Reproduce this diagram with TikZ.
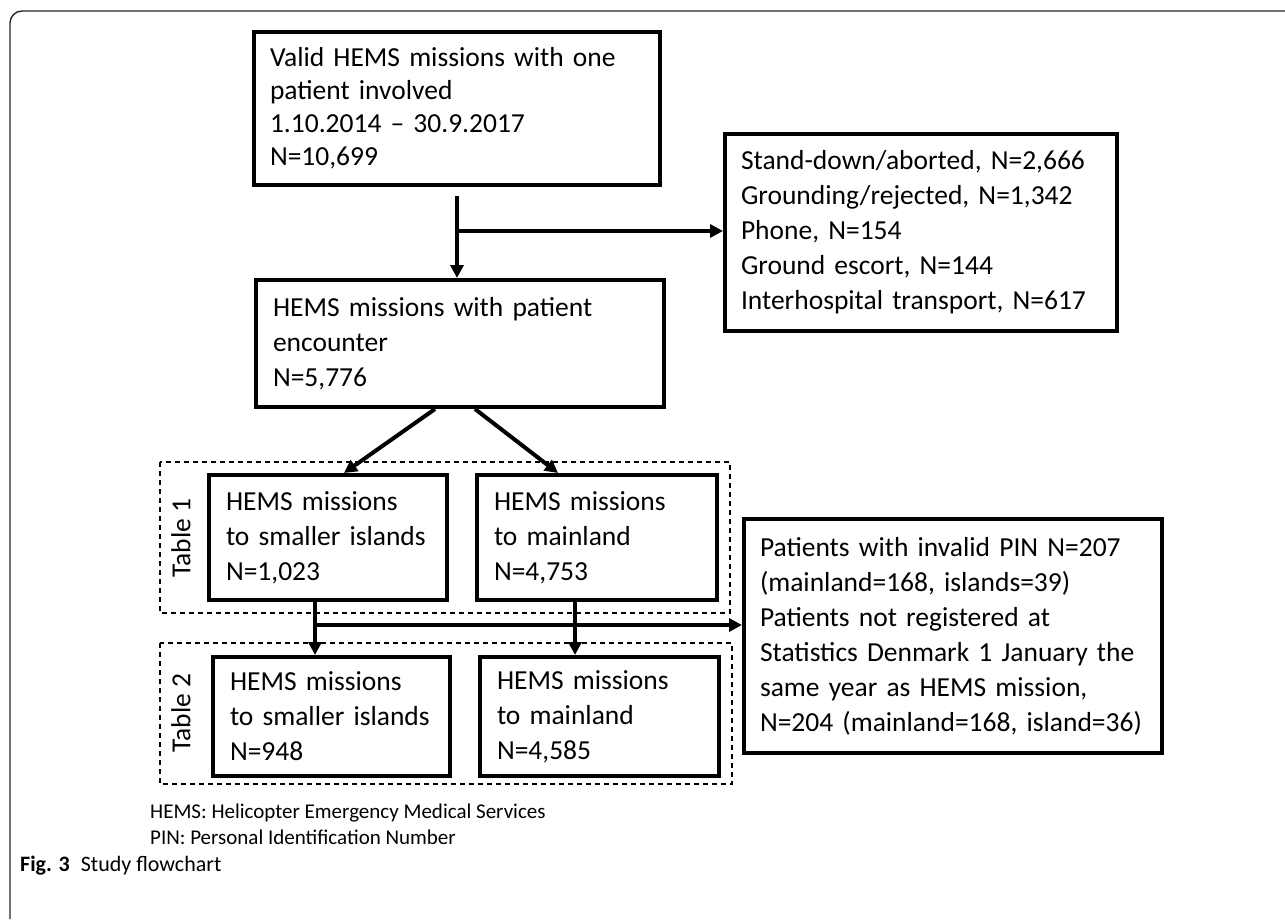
\documentclass[tikz,border=0pt]{standalone}
\usepackage{fontspec}
\setmainfont{Carlito}
\usetikzlibrary{arrows.meta}
\begin{document}
\begin{tikzpicture}[x=1pt,y=-1pt,
  box/.style={draw, line width=4pt, anchor=north west, inner xsep=16pt, inner ysep=0pt,
    align=left, font=\fontsize{27.5}{35}\selectfont},
  arr/.style={line width=4pt, -{Triangle[length=13pt,width=13pt]}},
  tabbox/.style={draw, dashed, line width=1.2pt, dash pattern=on 5pt off 4pt},
  lbl/.style={font=\fontsize{27.5}{33}\selectfont, rotate=90},
]
\useasboundingbox (0,0) rectangle (1285,919);
\fill[white] (0,0) rectangle (1285,919);
% outer frame
\draw[line width=1.4pt, black!85, rounded corners=12pt] (1285,11) -- (10,11) -- (10,919);

% dashed table frames
\draw[tabbox] (160,462) rectangle (730,613);
\draw[tabbox] (160,643) rectangle (732,784);
\node[lbl] (t1) at (181,538) {Table 1};
\node[lbl] (t2) at (181,713) {Table 2};

% boxes
\node[box, minimum width=406pt, minimum height=153pt, text width=374pt,
  font=\fontsize{27.5}{33}\selectfont] (b1) at (252,30)
  {Valid HEMS missions with one\\patient involved\\1.10.2014 -- 30.9.2017\\N=10,699};
\node[box, minimum width=392pt, minimum height=197pt, text width=360pt] (ex1) at (723,132)
  {Stand-down/aborted, N=2,666\\Grounding/rejected, N=1,342\\Phone, N=154\\Ground escort, N=144\\Interhospital transport, N=617};
\node[box, minimum width=408pt, minimum height=127pt, text width=374pt, inner xsep=17pt] (b2) at (254,278)
  {HEMS missions with patient\\encounter\\N=5,776};
\node[box, minimum width=238pt, minimum height=125pt, text width=204pt, inner xsep=17pt] (isl1) at (207,473)
  {HEMS missions\\to smaller islands\\N=1,023};
\node[box, minimum width=240pt, minimum height=125pt, text width=206pt, inner xsep=17pt] (main1) at (475,473)
  {HEMS missions\\to mainland\\N=4,753};
\node[box, minimum width=237pt, minimum height=119pt, text width=203pt, inner xsep=17pt] (isl2) at (211,655)
  {HEMS missions\\to smaller islands\\N=948};
\node[box, minimum width=239pt, minimum height=119pt, text width=205pt, inner xsep=17pt] (main2) at (478,655)
  {HEMS missions\\to mainland\\N=4,585};
\node[box, minimum width=418pt, minimum height=234pt, text width=386pt] (ex2) at (742,517)
  {Patients with invalid PIN N=207\\(mainland=168, islands=39)\\Patients not registered at\\Statistics Denmark 1 January the\\same year as HEMS mission,\\N=204 (mainland=168, island=36)};

% connectors
\coordinate (s1) at (457,196);
\coordinate (j1) at (457,231);
\draw[arr] (s1) -- (s1 |- b2.north);
\draw[arr] (j1) -- (j1 -| ex1.west);

\coordinate (d1s) at (435,405);
\coordinate (d1e) at (344,473);
\coordinate (d2s) at (475,405);
\coordinate (d2e) at (558,473);
\draw[arr] (d1s |- b2.south) -- (d1e |- isl1.north);
\draw[arr] (d2s |- b2.south) -- (d2e |- main1.north);

\coordinate (v1) at (315,625);
\coordinate (v2) at (575,625);
\draw[arr] (v1 |- isl1.south) -- (v1 |- isl2.north);
\draw[arr] (v2 |- main1.south) -- (v2 |- main2.north);
\draw[arr] (v1) -- (v1 -| ex2.west);

% legend and caption
\node[anchor=north west, align=left, inner sep=0pt, font=\fontsize{21}{26}\selectfont] (leg) at (150,804)
  {HEMS: Helicopter Emergency Medical Services\\PIN: Personal Identification Number};
\node[anchor=west, inner sep=0pt, font=\fontsize{22}{26}\selectfont] (cap) at (20,866)
  {\textbf{Fig. 3}\enspace Study flowchart};
\end{tikzpicture}
\end{document}
